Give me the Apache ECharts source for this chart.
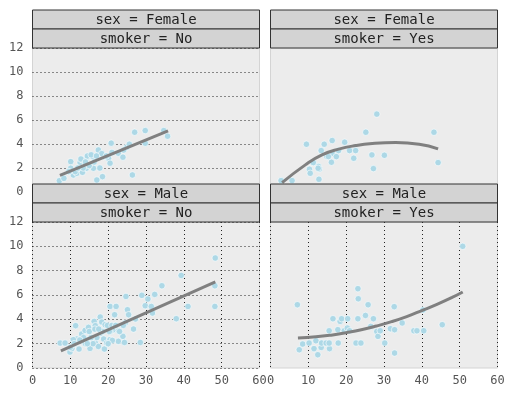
<!DOCTYPE html>
<html>
<head>
<meta charset="utf-8">
<script src="https://cdn.jsdelivr.net/npm/echarts@6/dist/echarts.min.js"></script>
<style>
  html, body { margin: 0; padding: 0; background: #fff; }
  #chart { width: 514px; height: 398px; }
</style>
</head>
<body>
<div id="chart"></div>
<script>
// total bill (x) and tip (y) per facet
var billFemaleNo = [7.1, 8.3, 10.1, 10.1, 10.8, 11.7, 12.6, 13.2, 13.2, 14.2, 14.8, 15.9, 16.1, 17.0, 17.4, 18.5, 18.8, 20.1, 20.5, 20.8, 22.7, 23.9, 24.9, 25.6, 26.4, 27.0, 29.8, 34.7, 35.7, 29.8, 12.8, 14.5, 13.4, 15.0, 16.3, 18.3, 17.8, 19.5, 11.3, 12.0, 14.0, 15.5, 9.6, 16.9, 24.1, 21.0];
var tipFemaleNo  = [0.94, 1.14, 2.53, 1.98, 1.42, 1.56, 2.45, 2.67, 1.64, 1.98, 2.95, 2.95, 1.98, 1.0, 3.5, 1.28, 2.95, 2.8, 2.4, 4.07, 3.23, 2.9, 3.73, 3.98, 1.42, 4.98, 5.12, 5.12, 4.65, 4.07, 2.75, 3.0, 2.0, 2.2, 2.5, 3.2, 2.0, 3.0, 1.7, 2.0, 2.5, 3.1, 1.7, 3.0, 3.5, 3.3];

var billFemaleYes = [2.8, 5.7, 9.5, 10.3, 10.5, 11.1, 12.7, 12.9, 12.8, 13.4, 14.2, 14.9, 16.3, 16.3, 16.1, 17.4, 18.0, 19.6, 20.9, 22.0, 22.5, 25.2, 26.8, 27.2, 28.1, 30.1, 43.2, 44.3, 12.6, 15.3, 11.3];
var tipFemaleYes  = [0.95, 0.95, 3.98, 1.9, 1.56, 2.48, 2.12, 1.92, 1.06, 3.45, 3.98, 2.95, 4.29, 3.23, 2.48, 2.95, 3.45, 4.15, 3.45, 2.81, 3.45, 4.98, 3.09, 1.95, 6.49, 3.06, 4.98, 2.45, 1.98, 2.95, 2.45];

var billMaleNo = [7.3, 8.6, 9.9, 12.3, 11.4, 11.7, 13.0, 13.9, 14.8, 15.2, 13.7, 16.3, 16.6, 17.4, 17.9, 18.3, 18.1, 18.8, 19.0, 19.6, 19.2, 20.5, 22.1, 21.7, 20.5, 21.4, 22.7, 22.7, 23.9, 24.3, 24.7, 25.1, 25.4, 24.5, 26.7, 28.5, 27.2, 28.9, 29.8, 30.5, 31.4, 31.7, 32.3, 14.4, 16.6, 48.3, 39.3, 34.2, 48.2, 41.1, 48.2, 38.0, 10.8, 10.4, 20.5, 21.1, 14.0, 15.0, 16.0, 17.0, 16.5, 18.5, 13.5, 12.5, 19.8, 20.0, 21.0, 22.0, 17.5, 15.5, 11.0, 10.0, 14.5, 23.0, 24.0, 20.3];
var tipMaleNo  = [2.05, 2.05, 1.31, 1.56, 3.48, 2.38, 2.79, 3.09, 3.34, 1.61, 2.05, 3.83, 2.05, 1.77, 4.19, 3.78, 2.88, 2.38, 1.56, 2.05, 3.56, 5.06, 5.06, 4.38, 2.33, 3.15, 3.09, 2.19, 2.6, 2.1, 5.88, 4.79, 4.38, 3.7, 3.2, 2.1, 4.03, 5.97, 5.12, 5.67, 5.06, 4.52, 6.05, 2.33, 3.48, 9.04, 7.61, 6.76, 6.76, 5.06, 5.06, 4.05, 2.33, 1.6, 3.0, 2.27, 2.0, 3.0, 2.0, 2.5, 3.2, 3.0, 2.5, 2.3, 3.5, 2.0, 3.5, 3.5, 3.2, 2.5, 2.0, 1.7, 2.0, 3.0, 3.5, 3.0];

var billMaleYes = [7.1, 7.6, 8.5, 10.2, 11.5, 12.0, 12.5, 13.4, 13.5, 14.7, 15.6, 15.5, 15.5, 16.5, 17.9, 17.8, 18.4, 18.8, 19.5, 20.3, 20.9, 20.4, 22.6, 23.9, 23.1, 23.2, 23.1, 25.1, 25.8, 26.5, 27.2, 28.1, 28.4, 29.0, 30.2, 32.7, 32.8, 31.7, 32.8, 34.8, 37.9, 38.7, 40.5, 40.3, 45.4, 50.8];
var tipMaleYes  = [5.2, 1.5, 1.97, 2.05, 1.59, 2.24, 1.09, 1.69, 2.05, 2.05, 1.59, 2.05, 3.06, 4.05, 2.05, 3.15, 3.83, 4.05, 3.06, 3.28, 3.06, 4.05, 2.05, 2.05, 4.05, 5.69, 6.52, 4.32, 5.2, 3.42, 4.05, 3.0, 2.6, 3.06, 2.05, 5.04, 1.23, 3.23, 3.15, 3.7, 3.06, 3.06, 3.06, 4.77, 3.56, 10.0];

// fitted curves
var fitXFemaleNo = [7.25, 35.83];
var fitYFemaleNo = [1.38, 5.1];
var fitXFemaleYes = [3.07, 9.2, 13.6, 18.0, 22.5, 26.9, 33.1, 39.3, 44.3];
var fitYFemaleYes = [0.78, 2.26, 3.09, 3.57, 3.87, 4.04, 4.12, 3.98, 3.6];
var fitXMaleNo = [7.51, 48.33];
var fitYMaleNo = [1.4, 7.08];
var fitXMaleYes = [7.25, 12, 16, 20, 24, 28, 32, 36, 40, 44, 48, 50.81];
var fitYMaleYes = [2.47, 2.56, 2.7, 2.9, 3.14, 3.45, 3.81, 4.23, 4.72, 5.23, 5.8, 6.25];

var xTicks = [0, 10, 20, 30, 40, 50, 60];
var yTicks = [0, 2, 4, 6, 8, 10, 12];

var panelTitles = [
    ['sex = Female', 'smoker = No'],
    ['sex = Female', 'smoker = Yes'],
    ['sex = Male', 'smoker = No'],
    ['sex = Male', 'smoker = Yes']
];

function pairs(xs, ys) {
    return xs.map(function (x, i) { return [x, ys[i]]; });
}

var myChart = echarts.init(document.getElementById('chart'));

var MONO = '"DejaVu Sans Mono", monospace';
var COLW = 227, LEFT = [32.5, 270.5];
var TOP = [48, 222], HEIGHT = [144, 146];
var grids = [], xAxes = [], yAxes = [], series = [], graphics = [];

var pts = [
    pairs(billFemaleNo, tipFemaleNo), pairs(billFemaleYes, tipFemaleYes),
    pairs(billMaleNo, tipMaleNo), pairs(billMaleYes, tipMaleYes)
];
var fits = [
    pairs(fitXFemaleNo, fitYFemaleNo), pairs(fitXFemaleYes, fitYFemaleYes),
    pairs(fitXMaleNo, fitYMaleNo), pairs(fitXMaleYes, fitYMaleYes)
];

for (var i = 0; i < 4; i++) {
    var row = Math.floor(i / 2), col = i % 2;
    grids.push({
        left: LEFT[col], top: TOP[row], width: COLW, height: HEIGHT[row],
        show: true, backgroundColor: '#ececec', borderColor: '#d4d4d4', borderWidth: 1
    });
    xAxes.push({
        gridIndex: i, type: 'value', min: 0, max: 60, interval: 10,
        axisLine: { show: false }, axisTick: { show: false },
        axisLabel: { show: row === 1, color: '#555', fontFamily: MONO, fontSize: 12, margin: 7,
            formatter: function (v) { return xTicks.indexOf(v) >= 0 ? String(v) : ''; } },
        splitLine: { show: row === 1, lineStyle: { type: [1, 3], color: '#222', width: 1 } }
    });
    yAxes.push({
        gridIndex: i, type: 'value', min: 0, max: 12, interval: 2,
        axisLine: { show: false }, axisTick: { show: false },
        axisLabel: { show: col === 0, color: '#555', fontFamily: MONO, fontSize: 12, margin: 9,
            formatter: function (v) { return yTicks.indexOf(v) >= 0 ? String(v) : ''; } },
        splitLine: { show: col === 0, lineStyle: { type: [1, 3], color: '#222', width: 1 } }
    });
    series.push({
        type: 'scatter', xAxisIndex: i, yAxisIndex: i, data: pts[i],
        symbolSize: 6.5, silent: true,
        itemStyle: { color: '#add8e6', borderColor: '#ffffff', borderWidth: 0.6, opacity: 1 }
    });
    series.push({
        type: 'line', xAxisIndex: i, yAxisIndex: i, data: fits[i],
        smooth: 0.5, showSymbol: false, silent: true, z: 3,
        lineStyle: { color: '#808080', width: 3 }
    });
    // facet strips
    var stripTop = row === 0 ? 10 : 184;
    for (var k = 0; k < 2; k++) {
        graphics.push({
            type: 'rect', z: 100,
            shape: { x: LEFT[col], y: stripTop + k * 19, width: COLW, height: 19 },
            style: { fill: '#d3d3d3', stroke: '#333', lineWidth: 1 }
        });
        graphics.push({
            type: 'text', z: 101,
            x: LEFT[col] + COLW / 2, y: stripTop + k * 19 + 10,
            style: { text: panelTitles[i][k], fill: '#222', font: '14px ' + MONO,
                align: 'center', verticalAlign: 'middle' }
        });
    }
}

var option = {
    animation: false,
    grid: grids,
    xAxis: xAxes,
    yAxis: yAxes,
    series: series,
    graphic: graphics
};
myChart.setOption(option);
</script>
</body>
</html>
